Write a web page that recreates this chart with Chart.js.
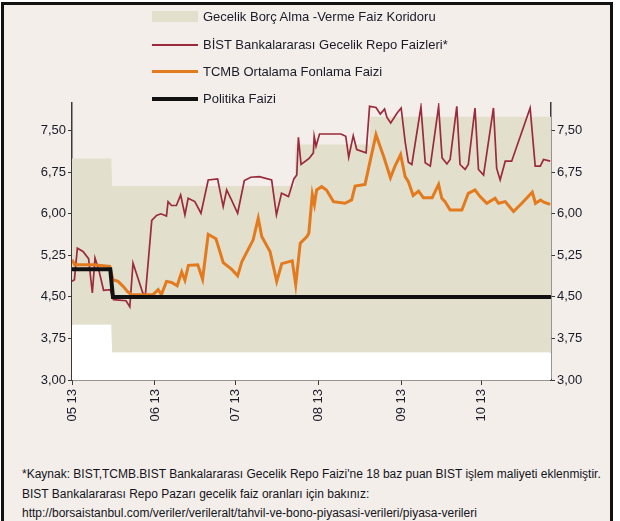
<!DOCTYPE html>
<html>
<head>
<meta charset="utf-8">
<script src="https://cdn.jsdelivr.net/npm/chart.js"></script>
<style>
  body { margin: 0; width: 620px; height: 521px; overflow: hidden; background: #fff;
         font-family: "Liberation Sans", Arial, sans-serif; color: #1a1a28; position: relative; }
  #frame { position: absolute; left: 1px; top: 2px; width: 612px; height: 540px;
           border: 3px solid #111; box-sizing: border-box; background: #f3eeea; }
  #chart { position: absolute; left: 0; top: 0; }
  .leg { position: absolute; left: 152px; height: 16px; font-size: 13px; line-height: 16px; white-space: nowrap; }
  .leg span.sw { position: absolute; left: 0; width: 46px; }
  .leg span.tx { position: absolute; left: 51px; top: 0; }
  .note { position: absolute; left: 22px; font-size: 12px; line-height: 14px; white-space: nowrap; color: #141420; }
</style>
</head>
<body>
<div id="frame"></div>
<canvas id="chart" width="620" height="450"></canvas>

<div class="leg" style="top:9px"><span class="sw" style="top:2px;height:11px;background:#e2dfcc"></span><span class="tx">Gecelik Borç Alma -Verme Faiz Koridoru</span></div>
<div class="leg" style="top:37px"><span class="sw" style="top:7px;height:2px;background:#9b2a3c"></span><span class="tx">BİST Bankalararası Gecelik Repo Faizleri*</span></div>
<div class="leg" style="top:64px"><span class="sw" style="top:6px;height:3px;background:#e37a1e"></span><span class="tx">TCMB Ortalama Fonlama Faizi</span></div>
<div class="leg" style="top:91px"><span class="sw" style="top:6px;height:4px;background:#111"></span><span class="tx">Politika Faizi</span></div>

<div class="note" style="top:467px">*Kaynak: BIST,TCMB.BIST Bankalararası Gecelik Repo Faizi'ne 18 baz puan BIST işlem maliyeti eklenmiştir.</div>
<div class="note" style="top:487px">BIST Bankalararası Repo Pazarı gecelik faiz oranları için bakınız:</div>
<div class="note" style="top:506px">http://borsaistanbul.com/veriler/verileralt/tahvil-ve-bono-piyasasi-verileri/piyasa-verileri</div>

<script>
// x values are days counted from 1 May 2013
const monthDays = [0, 31, 61, 92, 123, 153];
const monthLabels = ['05 13', '06 13', '07 13', '08 13', '09 13', '10 13'];
const yTicks = [3.00, 3.75, 4.50, 5.25, 6.00, 6.75, 7.50];

// interest rate corridor (borrowing / lending)
const corridorDays  = [0, 14.7, 15, 83.2, 83.5, 111, 111.3, 179];
const corridorUpper = [7.00, 7.00, 6.50, 6.50, 7.25, 7.25, 7.75, 7.75];
const corridorLower = [4.00, 4.00, 3.50, 3.50, 3.50, 3.50, 3.50, 3.50];

// BIST interbank overnight repo
const bistDays = [0, 0.9, 2, 4.1, 6.2, 7.6, 8.6, 10.2, 11.8, 14.3, 15.5, 20.2, 21.6, 22.8, 26.4, 27.4,
  29.8, 31.6, 33.2, 35.3, 35.9, 37.2, 39, 40.6, 42.2, 43.4, 45.9, 48.2, 50.9, 54.4, 56.5, 57.8,
  59.6, 61.9, 64.4, 66.8, 70, 74.6, 76.4, 78.3, 80.9, 82.9, 84, 84.6, 85.6, 88.6, 90.2, 90.5,
  91.2, 92.5, 100.5, 102.3, 103.4, 105.1, 106.4, 109.9, 111.2, 113.6, 115.2, 116.8, 117.7, 119.1,
  121.5, 123, 124.5, 125.7, 127, 130.4, 132, 133.9, 137, 138.3, 140.1, 141.3, 143.8, 145, 146.9,
  148.1, 150.6, 151.9, 153.8, 157.5, 158.7, 160, 161.9, 164.3, 171.2, 173.1, 175, 176.2, 178.7];
const bistRates = [4.78, 4.81, 5.38, 5.32, 5.19, 4.57, 5.20, 4.95, 4.62, 4.63, 4.45, 4.43, 4.32, 5.11, 4.58, 4.52,
  5.88, 5.97, 6.00, 5.96, 6.22, 6.15, 6.15, 6.34, 5.98, 6.28, 6.22, 6.01, 6.61, 6.63, 6.13, 6.43,
  6.25, 6.01, 6.60, 6.66, 6.67, 6.61, 5.98, 6.37, 6.31, 6.63, 6.70, 7.38, 6.89, 7.00, 7.10, 7.40,
  7.22, 7.44, 7.44, 7.40, 7.02, 7.41, 7.16, 7.10, 7.94, 7.92, 7.80, 7.89, 7.74, 7.64,
  7.82, 7.91, 7.30, 6.93, 6.89, 7.93, 6.92, 6.86, 7.94, 7.01, 6.90, 6.98, 7.94, 6.89, 6.80,
  6.89, 7.91, 6.80, 6.70, 7.91, 6.82, 6.61, 6.95, 6.95, 7.91, 6.86, 6.86, 6.98, 6.95];

// CBRT average funding rate
const tcmbDays = [0, 1, 8, 14.1, 15.3, 17.2, 19.1, 20.7, 22.2, 30.3, 32.2, 33.4, 35.3, 37.2, 39.3, 41,
  42.2, 43.5, 47, 48.8, 50.9, 53.8, 56.5, 59.6, 61.9, 63.5, 67.7, 69.6, 70.9, 74, 76.5, 78.4,
  82.3, 83.6, 85.3, 87.8, 88.5, 89.8, 90.6, 91.4, 93.3, 95.1, 97.7, 102, 104.5, 105.8, 109.5,
  113.6, 115.1, 116.5, 119, 120.7, 122.8, 124.5, 125.7, 127.5, 129.5, 131.3, 134.6, 137, 138.2,
  139.4, 141.3, 145.7, 148.1, 150.6, 152.5, 155, 158.1, 159.4, 161.9, 165, 168.1, 172, 173.2,
  175.1, 176.3, 178.7];
const tcmbRates = [5.17, 5.08, 5.08, 5.05, 4.81, 4.78, 4.69, 4.60, 4.54, 4.54, 4.63, 4.54, 4.78, 4.76, 4.70, 4.95,
  4.80, 5.07, 5.08, 4.82, 5.63, 5.55, 5.12, 5.00, 4.88, 5.14, 5.53, 5.92, 5.59, 5.32, 4.78, 5.10,
  5.15, 4.72, 5.47, 5.59, 5.65, 6.35, 6.17, 6.43, 6.49, 6.43, 6.22, 6.19, 6.25, 6.50, 6.53,
  7.43, 7.22, 7.03, 6.65, 6.86, 7.07, 6.67, 6.58, 6.33, 6.41, 6.29, 6.29, 6.53, 6.28,
  6.22, 6.07, 6.07, 6.37, 6.43, 6.31, 6.19, 6.28, 6.19, 6.22, 6.04, 6.19, 6.39, 6.19,
  6.25, 6.21, 6.17];

// policy rate
const policyDays  = [0, 14.3, 15.3, 179];
const policyRates = [5.00, 5.00, 4.50, 4.50];

function points(days, vals) {
  return days.map((d, i) => ({ x: d, y: vals[i] }));
}

Chart.defaults.font.family = '"Liberation Sans", Arial, sans-serif';
Chart.defaults.color = '#1a1a28';

const axisColor = '#3a3a3a';
const tickFont = { size: 13 };
const fmt = v => v.toFixed(2).replace('.', ',');

const ctx = document.getElementById('chart').getContext('2d');
const chart = new Chart(ctx, {
  type: 'line',
  data: {
    datasets: [
      {
        label: 'Politika Faizi',
        data: points(policyDays, policyRates),
        borderColor: '#111', borderWidth: 4, pointRadius: 0, fill: false
      },
      {
        label: 'TCMB Ortalama Fonlama Faizi',
        data: points(tcmbDays, tcmbRates),
        borderColor: '#e37a1e', borderWidth: 3, pointRadius: 0, fill: false
      },
      {
        label: 'BİST Bankalararası Gecelik Repo Faizleri*',
        data: points(bistDays, bistRates),
        borderColor: '#9b2a3c', borderWidth: 1.7, pointRadius: 0, fill: false
      },
      {
        label: 'Gecelik Borç Alma -Verme Faiz Koridoru',
        data: points(corridorDays, corridorUpper),
        borderWidth: 0, pointRadius: 0,
        backgroundColor: '#e2dfcc', fill: '+1'
      },
      {
        label: 'lower',
        data: points(corridorDays, corridorLower),
        borderWidth: 0, pointRadius: 0,
        backgroundColor: '#ffffff', fill: 'start'
      }
    ]
  },
  options: {
    responsive: false,
    animation: false,
    layout: { padding: { top: 103, right: 9, bottom: 0, left: 0 } },
    plugins: {
      legend: { display: false },
      tooltip: { enabled: false }
    },
    scales: {
      x: {
        type: 'linear',
        min: 0,
        max: 179,
        afterBuildTicks: s => { s.ticks = monthDays.map(v => ({ value: v })); },
        afterFit: s => { s.height = 70; },
        ticks: {
          callback: v => monthLabels[monthDays.indexOf(v)],
          minRotation: 90, maxRotation: 90, autoSkip: false,
          font: tickFont, padding: 4
        },
        grid: { drawOnChartArea: false, tickLength: 5, color: axisColor },
        border: { color: axisColor, width: 1.5 }
      },
      y: {
        position: 'left',
        min: 3,
        max: 8,
        afterBuildTicks: s => { s.ticks = yTicks.map(v => ({ value: v })); },
        afterFit: s => { s.width = 72; },
        ticks: { callback: fmt, font: tickFont, padding: 2 },
        grid: { drawOnChartArea: false, tickLength: 4, color: axisColor },
        border: { color: axisColor, width: 1.5 }
      },
      y2: {
        position: 'right',
        min: 3,
        max: 8,
        afterBuildTicks: s => { s.ticks = yTicks.map(v => ({ value: v })); },
        afterFit: s => { s.width = 60; },
        ticks: { callback: fmt, font: tickFont, padding: 2 },
        grid: { drawOnChartArea: false, tickLength: 4, color: axisColor },
        border: { color: axisColor, width: 1.5 }
      }
    }
  }
});
</script>
</body>
</html>
